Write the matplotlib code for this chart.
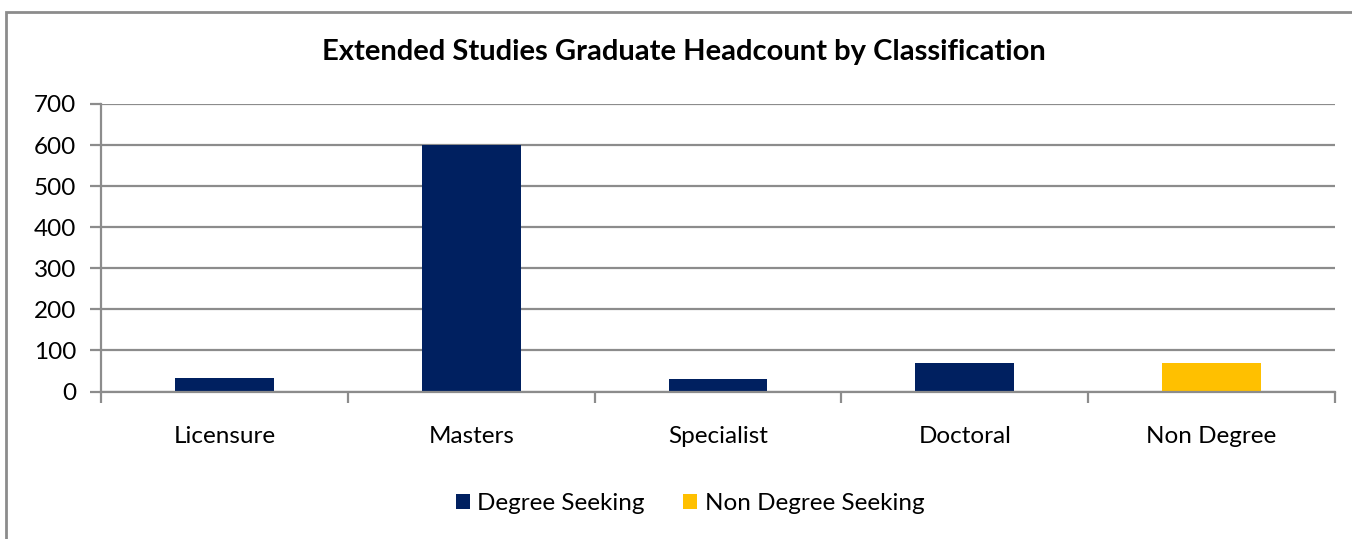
import matplotlib
matplotlib.use("Agg")
import matplotlib.pyplot as plt
from matplotlib.patches import Patch, Rectangle

categories = ["Licensure", "Masters", "Specialist", "Doctoral", "Non Degree"]
values = [32, 601, 30, 69, 70]
series = ["Degree Seeking", "Degree Seeking", "Degree Seeking", "Degree Seeking", "Non Degree Seeking"]
series_colors = {"Degree Seeking": "#002060", "Non Degree Seeking": "#FFC000"}
yticks = [0, 100, 200, 300, 400, 500, 600, 700]

plt.rcParams['font.family'] = ['Lato', 'DejaVu Sans']
W, H = 1352, 539
fig = plt.figure(figsize=(W / 100, H / 100), dpi=100)

# outer chart border
fig.patches.append(Rectangle((6 / W, -0.01), 1.0, 1 - 12 / H + 0.01, transform=fig.transFigure,
                             fill=False, edgecolor="#8c8c8c", linewidth=2))

ax = fig.add_axes([101 / W, 1 - 391.5 / H, (1335 - 101) / W, (391.5 - 104) / H])
x = list(range(len(categories)))
ax.bar(x, values, width=0.4, color=[series_colors[s] for s in series], zorder=3)

ax.set_xlim(-0.5, len(categories) - 0.5)
ax.set_ylim(0, 700)
ax.set_yticks(yticks)
ax.set_yticklabels([str(t) for t in yticks], fontsize=17.5)
ax.grid(axis="y", color="#8c8c8c", linewidth=1.6, zorder=0)
ax.set_axisbelow(True)

# category boundary ticks on x-axis
ax.set_xticks([i - 0.5 for i in range(len(categories) + 1)])
ax.set_xticklabels([])
ax.set_xticks(x, minor=True)
ax.set_xticklabels(categories, minor=True, fontsize=17.5)
ax.tick_params(axis="x", which="minor", length=0, pad=24.5)
ax.tick_params(axis="x", which="major", length=8, width=1.6, color="#8c8c8c", direction="out")
ax.tick_params(axis="y", length=8, width=1.6, color="#8c8c8c", direction="out", pad=10)

for s in ["top", "right"]:
    ax.spines[s].set_visible(False)
for s in ["left", "bottom"]:
    ax.spines[s].set_color("#8c8c8c")
    ax.spines[s].set_linewidth(1.6)
    ax.spines[s].set_zorder(4)

fig.text(684 / W, 1 - 52 / H, "Extended Studies Graduate Headcount by Classification",
         ha="center", va="center", fontsize=21, fontweight="bold")

handles = [Patch(facecolor=series_colors[k], label=k) for k in ["Degree Seeking", "Non Degree Seeking"]]
fig.legend(handles=handles, loc="center", bbox_to_anchor=(690 / W, 1 - 504 / H), ncol=2,
           frameon=False, fontsize=17.5, handlelength=0.58, handleheight=0.58, handletextpad=0.3,
           columnspacing=1.6)

fig.savefig("out.png", dpi=100)
